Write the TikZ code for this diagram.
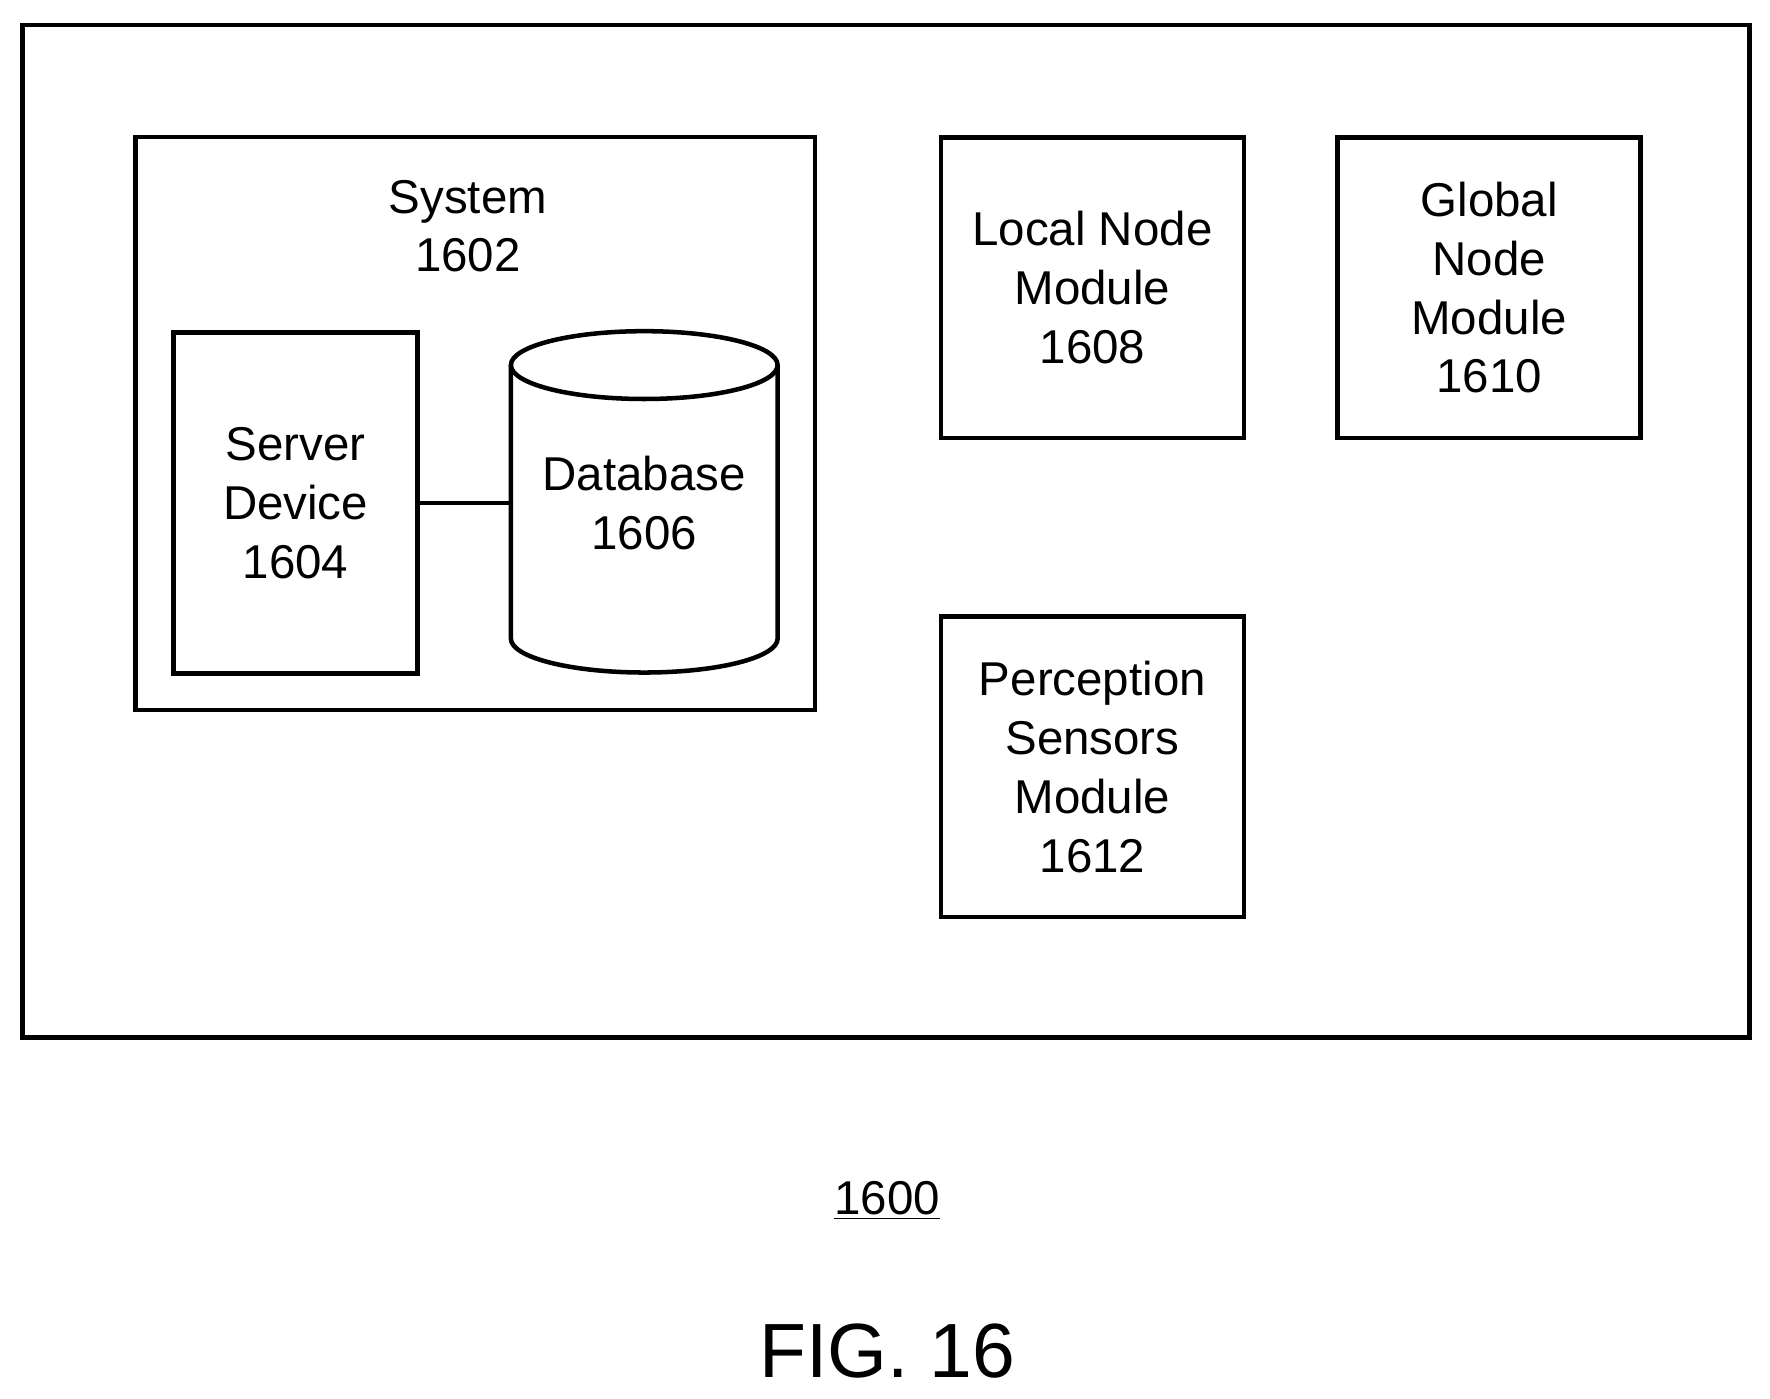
\documentclass[tikz,border=0pt]{standalone}
\usepackage{fontspec}
\setmainfont{Liberation Sans}
\tikzset{
  box/.style={draw, line width=2pt, align=center, font=\fontsize{21}{26}\selectfont},
  lbl/.style={align=center, font=\fontsize{21}{26}\selectfont}
}
\begin{document}
\begin{tikzpicture}[x=0.5pt,y=-0.5pt]
\useasboundingbox (0,0) rectangle (1566,1237);
% outer frame
\draw[line width=2pt] (20,22) rectangle (1548,918);
% system
\draw[line width=2pt] (120,121) rectangle (721,628);
\node[lbl] (sys) at (414,200) {System\\1602};
\node[box, minimum width=108pt, minimum height=151pt] (server) at (261.5,445) {Server\\Device\\1604};
% database cylinder
\draw[line width=2pt] (570,323) ellipse [x radius=118, y radius=30];
\draw[line width=2pt] (452,323) -- (452,565) arc [start angle=180, end angle=0, x radius=118, y radius=30] -- (688,323);
\coordinate (dbw) at (452,445);
\node[lbl] (db) at (570,445) {Database\\1606};
\draw[line width=2pt] (server.east) -- (dbw);
% modules
\node[box, minimum width=134pt, minimum height=133pt] (local) at (966.5,254.5) {Local Node\\Module\\1608};
\node[box, minimum width=134pt, minimum height=133pt] (global) at (1317.5,254.5) {Global\\Node\\Module\\1610};
\node[box, minimum width=134pt, minimum height=133pt] (percep) at (966.5,678.5) {Perception\\Sensors\\Module\\1612};
% captions
\node[lbl] (ref) at (785,1062) {\underline{1600}};
\node[font=\fontsize{34}{40}\selectfont] (fig) at (785,1195) {FIG. 16};
\end{tikzpicture}
\end{document}
